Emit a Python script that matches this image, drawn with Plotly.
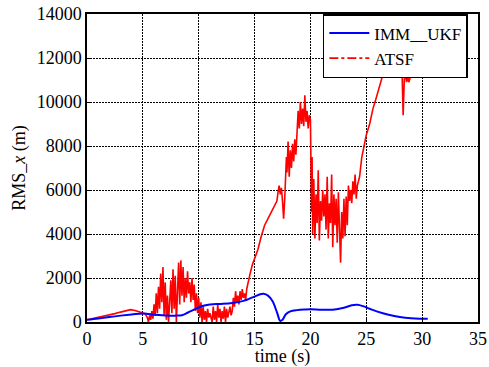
import plotly.graph_objects as go

imm_t = [0, 1, 2, 3, 4, 5, 5.5, 6, 7, 8, 8.5, 9, 9.5, 10, 10.5, 11, 12, 13, 14, 14.5, 15, 15.5, 15.8,
         16.2, 16.6, 17.0, 17.3, 17.5, 17.8, 18.2, 18.8, 19.5, 20, 21, 22, 23, 23.7, 24.2, 24.7, 25.3,
         26, 27, 28, 29, 29.8, 30.5]
imm_v = [100, 160, 230, 290, 340, 390, 360, 330, 300, 290, 310, 420, 540, 660, 750, 800, 820, 860, 960,
         1050, 1150, 1260, 1280, 1200, 950, 450, 50, 100, 350, 480, 540, 570, 580, 560, 560, 650, 760,
         780, 720, 600, 470, 330, 230, 170, 150, 150]

atsf_t = [0, 0.5, 1, 1.5, 2, 2.5, 3, 3.5, 3.9, 4.3, 4.7, 5.0, 5.2, 5.4, 5.5, 5.6, 5.7, 5.8, 5.9, 6.0,
          6.1, 6.2, 6.3, 6.4, 6.5, 6.6, 6.7, 6.8, 6.9, 7.0, 7.1, 7.2, 7.3, 7.4, 7.5, 7.6, 7.7, 7.8, 7.9,
          8.0, 8.1, 8.2, 8.3, 8.4, 8.5, 8.6, 8.7, 8.8, 8.9, 9.0, 9.1, 9.2, 9.3, 9.4, 9.5, 9.6, 9.7, 9.8,
          9.9, 10.0, 10.1, 10.2, 10.3, 10.4, 10.5, 10.6, 10.7, 10.8, 10.9, 11.0, 11.2, 11.3, 11.4, 11.5,
          11.6, 11.7, 11.8, 11.9, 12.0, 12.1, 12.2, 12.3, 12.4, 12.5, 12.6, 12.7, 12.8, 12.9, 13.0, 13.1,
          13.2, 13.3, 13.4, 13.5, 13.6, 13.7, 13.8, 13.9, 14.0, 14.1, 14.2, 14.3, 14.4, 14.6, 14.8, 15.0,
          15.3, 15.6, 15.9, 16.2, 16.5, 16.8, 17.0, 17.1, 17.2, 17.3, 17.4, 17.5, 17.6, 17.7, 17.8, 17.85,
          17.9, 18.0, 18.1, 18.2, 18.3, 18.4, 18.5, 18.6, 18.7, 18.8, 18.9, 19.0, 19.1, 19.2, 19.3, 19.4,
          19.5, 19.6, 19.7, 19.8, 19.9, 20.0, 20.05, 20.1, 20.15, 20.2, 20.3, 20.4, 20.5, 20.6, 20.7, 20.8,
          20.9, 21.0, 21.1, 21.2, 21.3, 21.4, 21.5, 21.6, 21.7, 21.8, 21.9, 22.0, 22.1, 22.2, 22.3, 22.4,
          22.5, 22.6, 22.7, 22.8, 22.9, 23.0, 23.1, 23.2, 23.3, 23.4, 23.5, 23.6, 23.7, 23.8, 23.9, 24.0,
          24.1, 24.2, 24.4, 24.6, 24.8, 25.0, 25.3, 25.6, 25.9, 26.2, 26.5, 26.8, 27.0, 27.3, 27.6, 27.9,
          28.1, 28.2, 28.3, 28.4, 28.5, 28.6, 28.7, 28.8, 29.0, 29.2, 29.4, 29.6, 29.8, 30.0, 30.2, 30.4,
          30.5]
atsf_v = [100, 150, 200, 250, 300, 380, 450, 520, 560, 520, 450, 420, 380, 200, 0, 300, 100, 500, 150, 800,
          300, 1300, 400, 1600, 600, 2200, 900, 2500, 300, 1800, 100, 1200, 0, 900, 1900, 400, 2400, 600, 2100,
          0, 1500, 2700, 800, 2800, 1200, 2500, 900, 2000, 1100, 2300, 1300, 1800, 900, 2000, 1000, 1700, 500, 1300,
          400, 1100, 200, 900, 0, 700, 100, 500, 0, 600, 200, 400, 0, 700, 100, 500,
          0, 800, 200, 600, 0, 500, 150, 700, 0, 600, 200, 400, 700, 300, 500, 1100,
          700, 1400, 900, 1200, 800, 1400, 1000, 1500, 1100, 1300, 1000, 1500, 1800, 2200, 2600, 2900,
          3300, 3900, 4400, 4700, 5000, 5300, 5500, 5900, 6200, 5800, 6100, 5500, 4700, 5600, 6500, 7500,
          6800, 8200, 6600, 7800, 7000, 8100, 7300, 8300, 7600, 8600, 9600, 8800, 10000, 9000, 9700, 8900,
          10300, 9100, 9600, 8800, 9400, 9200, 7000, 5000, 7500, 4000, 6500, 3800, 5800, 4500, 6900, 3700,
          5500, 4600, 6000, 4800, 5800, 4200, 6600, 3800, 5400, 4500, 6700, 3400, 5800, 4400, 5600, 3600,
          5900, 4200, 2700, 5000, 3800, 5600, 3900, 5700, 4400, 6200, 5500, 6000, 5400, 6400, 5800, 6700,
          5600, 6200, 6600, 7500, 8000, 8500, 9000, 9700, 10200, 10700, 11200, 11800, 12300, 12600, 12700, 12500,
          12200, 11400, 9400, 11000, 11400, 10900, 11200, 10900, 11200, 11300, 11500, 11400, 11700, 11600, 11900, 12100,
          11800]

x_ticks = [0, 5, 10, 15, 20, 25, 30, 35]
y_ticks = [0, 2000, 4000, 6000, 8000, 10000, 12000, 14000]

serif = "'Times New Roman', 'Liberation Serif', 'DejaVu Serif', serif"

fig = go.Figure()
fig.add_trace(go.Scatter(x=atsf_t, y=atsf_v, mode="lines", line=dict(color="#ff0000", width=1.6),
                         showlegend=False, name="ATSF"))
fig.add_trace(go.Scatter(x=imm_t, y=imm_v, mode="lines", line=dict(color="#0000ff", width=2, shape="spline"),
                         name="IMM__UKF"))
fig.add_trace(go.Scatter(x=[None], y=[None], mode="lines", line=dict(color="#ff0000", width=1.6, dash="dashdot"),
                         name="ATSF"))

axis_common = dict(showline=True, linecolor="black", linewidth=1.5, mirror=True,
                   showgrid=True, gridcolor="#000000", gridwidth=1.3, griddash="2px,1px",
                   zeroline=False, ticks="inside", ticklen=4, tickcolor="black", automargin=False,
                   tickfont=dict(family=serif, size=18, color="black"))

fig.update_layout(
    width=489, height=367,
    margin=dict(l=87, r=11, t=14, b=45),
    paper_bgcolor="white", plot_bgcolor="white",
    font=dict(family=serif, color="black"),
    xaxis=dict(range=[0, 35], tickvals=x_ticks, ticktext=[str(v) for v in x_ticks],
               title=dict(text="time (s)", font=dict(family=serif, size=18, color="black"), standoff=0),
               **axis_common),
    yaxis=dict(range=[0, 14000], tickvals=y_ticks, ticktext=[str(v) for v in y_ticks],
               title=dict(text="RMS_<i>x</i> (m)", font=dict(family=serif, size=18, color="black"), standoff=6),
               **axis_common),
    legend=dict(x=0.974, y=1.0, xanchor="right", yanchor="top",
                bgcolor="white", bordercolor="black", borderwidth=1.5,
                font=dict(family=serif, size=17, color="black"),
                tracegroupgap=0, itemwidth=40),
    showlegend=True,
)

fig.write_html("out.html")
